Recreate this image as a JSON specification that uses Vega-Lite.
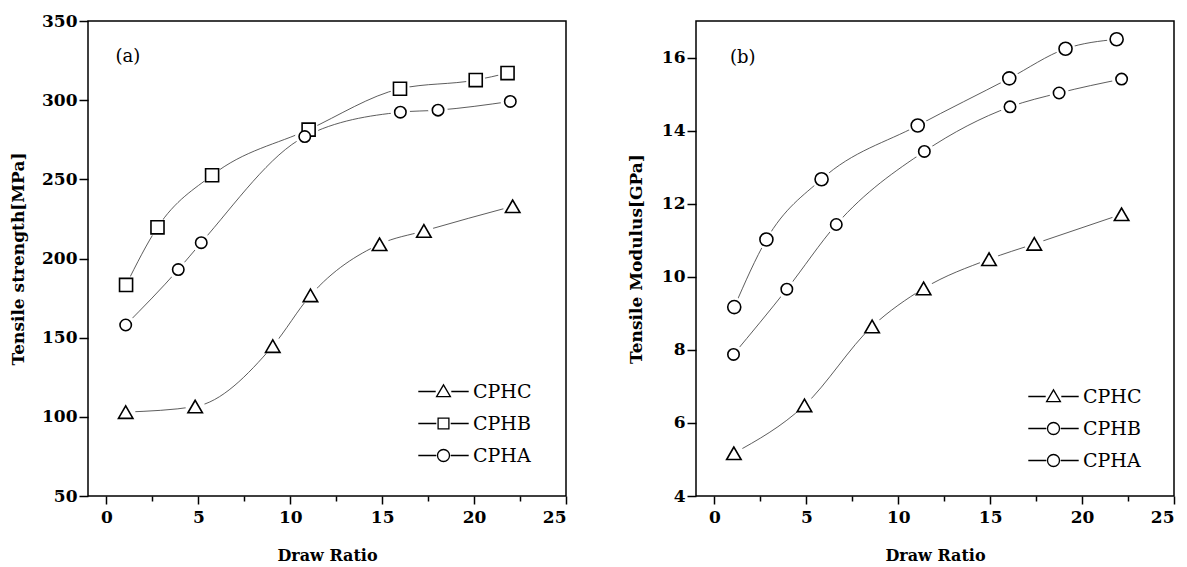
{
  "$schema": "https://vega.github.io/schema/vega-lite/v6.json",
  "background": "white",
  "padding": {"left": 8, "top": 11, "right": 5, "bottom": 5},
  "spacing": 130,
  "bounds": "flush",
  "config": {
    "view": {"stroke": "black", "strokeWidth": 1.5},
    "axis": {
      "domain": false, "grid": false,
      "labelFont": "DejaVu Serif", "labelFontWeight": "bold", "labelFontSize": 17, "labelColor": "black",
      "titleFont": "DejaVu Serif", "titleFontWeight": "bold", "titleFontSize": 16, "titleColor": "black",
      "tickColor": "black", "tickWidth": 1.5, "labelOverlap": false
    },
    "axisY": {"titleFontSize": 17},
    "legend": {
      "orient": "none", "title": null, "padding": 0,
      "symbolSize": 144, "symbolStrokeColor": "black", "symbolFillColor": "transparent", "symbolStrokeWidth": 1.3, "symbolOpacity": 1,
      "labelFont": "DejaVu Serif", "labelFontSize": 19, "labelFontWeight": "normal", "labelColor": "black",
      "labelOffset": 20, "rowPadding": 12
    }
  },
  "hconcat": [
    {
      "width": 478, "height": 475,
      "data": {"values": [
        {"series": "CPHC", "x": 1.05, "y": 103},
        {"series": "CPHC", "x": 4.83, "y": 106.5},
        {"series": "CPHC", "x": 9.05, "y": 144.7},
        {"series": "CPHC", "x": 11.1, "y": 176.7},
        {"series": "CPHC", "x": 14.86, "y": 209},
        {"series": "CPHC", "x": 17.27, "y": 217.4},
        {"series": "CPHC", "x": 22.1, "y": 233},
        {"series": "CPHB", "x": 1.07, "y": 183.3},
        {"series": "CPHB", "x": 2.78, "y": 219.7},
        {"series": "CPHB", "x": 5.75, "y": 252.6},
        {"series": "CPHB", "x": 11.0, "y": 281.4},
        {"series": "CPHB", "x": 15.97, "y": 307.2},
        {"series": "CPHB", "x": 20.09, "y": 312.7},
        {"series": "CPHB", "x": 21.82, "y": 317.1},
        {"series": "CPHA", "x": 1.05, "y": 158},
        {"series": "CPHA", "x": 3.91, "y": 193},
        {"series": "CPHA", "x": 5.16, "y": 210},
        {"series": "CPHA", "x": 10.79, "y": 277},
        {"series": "CPHA", "x": 15.99, "y": 292.4},
        {"series": "CPHA", "x": 18.04, "y": 293.7},
        {"series": "CPHA", "x": 21.97, "y": 299.2}
      ]},
      "layer": [
        {"mark": {"type": "line", "interpolate": "monotone", "stroke": "#333333", "strokeWidth": 0.8},
         "encoding": {
           "x": {"field": "x", "type": "quantitative", "title": "Draw Ratio",
             "scale": {"domain": [-1, 25], "nice": false, "zero": false},
             "axis": {"values": [0, 2.5, 5, 7.5, 10, 12.5, 15, 17.5, 20, 22.5, 25],
               "labelExpr": "datum.value % 5 === 0 ? format(datum.value, 'd') : ''",
               "tickSize": {"condition": {"test": "datum.value % 5 === 0", "value": 8}, "value": 5},
               "labelPadding": 5, "titlePadding": 22}},
           "y": {"field": "y", "type": "quantitative", "title": "Tensile strength[MPa]",
             "scale": {"domain": [50, 350], "nice": false, "zero": false},
             "axis": {"values": [50, 75, 100, 125, 150, 175, 200, 225, 250, 275, 300, 325, 350],
               "labelExpr": "datum.value % 50 === 0 ? format(datum.value, 'd') : ''",
               "tickSize": {"condition": {"test": "datum.value % 50 === 0", "value": 9}, "value": 6},
               "labelPadding": 2, "titlePadding": 14}},
           "detail": {"field": "series"}}},
        {"mark": {"type": "point", "shape": "circle", "filled": true, "fill": "white", "opacity": 1, "size": 380, "strokeWidth": 0},
         "encoding": {"x": {"field": "x", "type": "quantitative"}, "y": {"field": "y", "type": "quantitative"}}},
        {"mark": {"type": "point", "filled": true, "fill": "white", "stroke": "black", "strokeWidth": 1.6, "opacity": 1},
         "encoding": {
           "x": {"field": "x", "type": "quantitative"}, "y": {"field": "y", "type": "quantitative"},
           "shape": {"field": "series", "scale": {"domain": ["CPHC", "CPHB", "CPHA"], "range": ["triangle-up", "square", "circle"]}, "legend": null},
           "size": {"field": "series", "scale": {"domain": ["CPHC", "CPHB", "CPHA"], "range": [210, 130, 150]}, "legend": null}
         }},
        {"mark": {"type": "point", "opacity": 0},
         "encoding": {
           "x": {"field": "x", "type": "quantitative"}, "y": {"field": "y", "type": "quantitative"},
           "shape": {"field": "series",
             "scale": {"domain": ["CPHC", "CPHB", "CPHA"], "range": [
               "M-4.2,0L-1.3,0M1.3,0L4.2,0M0,-1.1L1.15,0.85L-1.15,0.85Z",
               "M-4.2,0L-1.2,0M1.2,0L4.2,0M-0.9,-0.9L0.9,-0.9L0.9,0.9L-0.9,0.9Z",
               "M-4.2,0L-1.2,0M1.2,0L4.2,0M1,0A1,1,0,1,1,-1,0A1,1,0,1,1,1,0Z"]},
             "legend": {"legendX": 346, "legendY": 361}}
         }},
        {"data": {"values": [{"label": "(a)"}]},
         "mark": {"type": "text", "align": "left", "baseline": "middle", "font": "DejaVu Serif", "fontSize": 18, "color": "black"},
         "encoding": {"x": {"datum": 0.5, "type": "quantitative"}, "y": {"datum": 327, "type": "quantitative"}, "text": {"field": "label", "type": "nominal"}}}
      ],
      "resolve": {"scale": {"shape": "independent"}}
    },
    {
      "width": 478, "height": 475,
      "data": {"values": [
        {"series": "CPHC", "x": 1.06, "y": 5.17},
        {"series": "CPHC", "x": 4.9, "y": 6.48},
        {"series": "CPHC", "x": 8.58, "y": 8.64},
        {"series": "CPHC", "x": 11.38, "y": 9.68},
        {"series": "CPHC", "x": 14.94, "y": 10.48},
        {"series": "CPHC", "x": 17.4, "y": 10.9},
        {"series": "CPHC", "x": 22.15, "y": 11.71},
        {"series": "CPHB", "x": 1.08, "y": 9.17},
        {"series": "CPHB", "x": 2.83, "y": 11.02},
        {"series": "CPHB", "x": 5.83, "y": 12.67},
        {"series": "CPHB", "x": 11.06, "y": 14.14},
        {"series": "CPHB", "x": 16.04, "y": 15.43},
        {"series": "CPHB", "x": 19.1, "y": 16.24},
        {"series": "CPHB", "x": 21.88, "y": 16.5},
        {"series": "CPHA", "x": 1.04, "y": 7.875},
        {"series": "CPHA", "x": 3.94, "y": 9.66},
        {"series": "CPHA", "x": 6.63, "y": 11.43},
        {"series": "CPHA", "x": 11.42, "y": 13.43},
        {"series": "CPHA", "x": 16.08, "y": 14.65},
        {"series": "CPHA", "x": 18.75, "y": 15.03},
        {"series": "CPHA", "x": 22.15, "y": 15.41}
      ]},
      "layer": [
        {"mark": {"type": "line", "interpolate": "monotone", "stroke": "#333333", "strokeWidth": 0.8},
         "encoding": {
           "x": {"field": "x", "type": "quantitative", "title": "Draw Ratio",
             "scale": {"domain": [-1, 25], "nice": false, "zero": false},
             "axis": {"values": [0, 2.5, 5, 7.5, 10, 12.5, 15, 17.5, 20, 22.5, 25],
               "labelExpr": "datum.value % 5 === 0 ? format(datum.value, 'd') : ''",
               "tickSize": {"condition": {"test": "datum.value % 5 === 0", "value": 8}, "value": 5},
               "labelPadding": 5, "titlePadding": 22}},
           "y": {"field": "y", "type": "quantitative", "title": "Tensile Modulus[GPa]",
             "scale": {"domain": [4, 17], "nice": false, "zero": false},
             "axis": {"values": [4, 5, 6, 7, 8, 9, 10, 11, 12, 13, 14, 15, 16],
               "labelExpr": "datum.value % 2 === 0 ? format(datum.value, 'd') : ''",
               "tickSize": {"condition": {"test": "datum.value % 2 === 0", "value": 9}, "value": 6},
               "labelPadding": 2, "titlePadding": 16}},
           "detail": {"field": "series"}}},
        {"mark": {"type": "point", "shape": "circle", "filled": true, "fill": "white", "opacity": 1, "size": 380, "strokeWidth": 0},
         "encoding": {"x": {"field": "x", "type": "quantitative"}, "y": {"field": "y", "type": "quantitative"}}},
        {"mark": {"type": "point", "filled": true, "fill": "white", "stroke": "black", "strokeWidth": 1.6, "opacity": 1},
         "encoding": {
           "x": {"field": "x", "type": "quantitative"}, "y": {"field": "y", "type": "quantitative"},
           "shape": {"field": "series", "scale": {"domain": ["CPHC", "CPHB", "CPHA"], "range": ["triangle-up", "circle", "circle"]}, "legend": null},
           "size": {"field": "series", "scale": {"domain": ["CPHC", "CPHB", "CPHA"], "range": [210, 150, 150]}, "legend": null}
         }},
        {"mark": {"type": "point", "opacity": 0},
         "encoding": {
           "x": {"field": "x", "type": "quantitative"}, "y": {"field": "y", "type": "quantitative"},
           "shape": {"field": "series",
             "scale": {"domain": ["CPHC", "CPHB", "CPHA"], "range": [
               "M-4.2,0L-1.3,0M1.3,0L4.2,0M0,-1.1L1.15,0.85L-1.15,0.85Z",
               "M-4.2,0L-1.2,0M1.2,0L4.2,0M1,0A1,1,0,1,1,-1,0A1,1,0,1,1,1,0Z",
               "M-4.2,0L-1.2,0M1.2,0L4.2,0M1,0A1,1,0,1,1,-1,0A1,1,0,1,1,1,0Z"]},
             "legend": {"legendX": 348, "legendY": 366}}
         }},
        {"data": {"values": [{"label": "(b)"}]},
         "mark": {"type": "text", "align": "left", "baseline": "middle", "font": "DejaVu Serif", "fontSize": 18, "color": "black"},
         "encoding": {"x": {"datum": 0.85, "type": "quantitative"}, "y": {"datum": 16, "type": "quantitative"}, "text": {"field": "label", "type": "nominal"}}}
      ],
      "resolve": {"scale": {"shape": "independent"}}
    }
  ]
}
